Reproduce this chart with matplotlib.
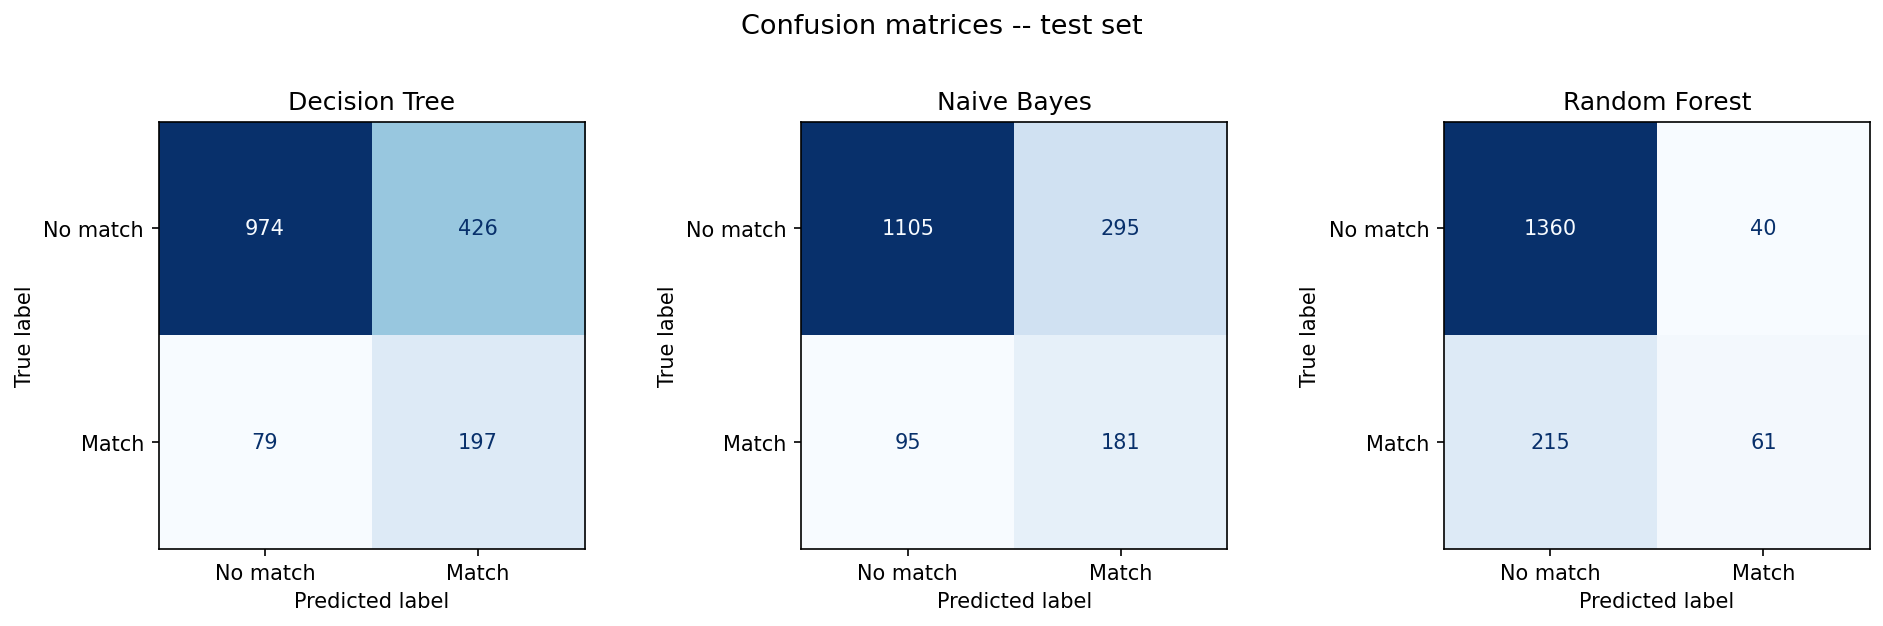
import numpy as np
import matplotlib
matplotlib.use("Agg")
import matplotlib.pyplot as plt

models = ["Decision Tree", "Naive Bayes", "Random Forest"]
labels = ["No match", "Match"]
cm_tree = [[974, 426], [79, 197]]
cm_nb = [[1105, 295], [95, 181]]
cm_rf = [[1360, 40], [215, 61]]
matrices = [cm_tree, cm_nb, cm_rf]

W, H = 1883, 626
dpi = 150
fig = plt.figure(figsize=((W + 0.4) / dpi, (H + 0.4) / dpi), dpi=dpi)
lefts = [158.5, 801.0, 1443.5]
aw, ah = 426, 427
bottom = H - 549
cmap = plt.get_cmap("Blues")
for left, name, cm in zip(lefts, models, matrices):
    ax = fig.add_axes([left / W, bottom / H, aw / W, ah / H])
    m = np.array(cm)
    ax.imshow(m, cmap=cmap, interpolation="nearest", aspect="auto")
    thresh = (m.max() + m.min()) / 2.0
    for i in range(m.shape[0]):
        for j in range(m.shape[1]):
            color = cmap(0.0) if m[i, j] >= thresh else cmap(1.0)
            ax.text(j, i, str(m[i, j]), ha="center", va="center", color=color)
    ax.set_xticks(range(len(labels)), labels)
    ax.set_yticks(range(len(labels)), labels)
    ax.set_xlabel("Predicted label")
    ax.set_ylabel("True label")
    ax.set_title(name)
    ax.set_xlim(-0.5, 1.5)
    ax.set_ylim(1.5, -0.5)

fig.text(0.5, 1 - 26.5 / H, "Confusion matrices -- test set", fontsize=13,
         ha="center", va="center")
fig.savefig("out.png", dpi=dpi)
